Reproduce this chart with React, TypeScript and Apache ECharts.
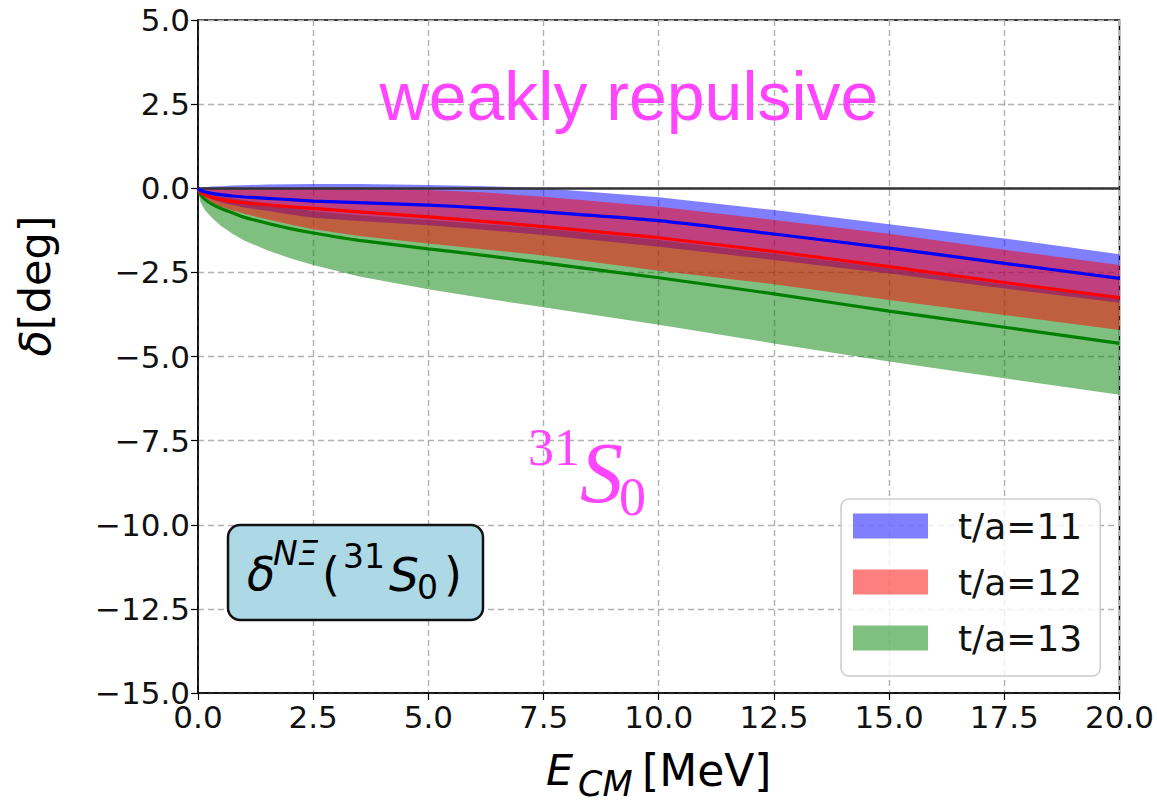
import React, { useEffect, useRef } from "react";
import * as echarts from "echarts";

// Energy grid (MeV)
const E = [0, 0.05, 0.15, 0.3, 0.5, 0.75, 1, 1.5, 2, 2.5, 3.5, 5, 6.25, 7.5, 10, 12.5, 15, 17.5, 20];

// t/a = 11
const blueUpper = [0, 0.01, 0.03, 0.05, 0.06, 0.08, 0.09, 0.11, 0.12, 0.13, 0.13, 0.1, 0.06, 0.0, -0.27, -0.65, -1.07, -1.49, -1.96];
const blueLine = [0, -0.06, -0.11, -0.15, -0.19, -0.23, -0.26, -0.3, -0.34, -0.38, -0.43, -0.5, -0.59, -0.7, -0.96, -1.36, -1.78, -2.23, -2.68];
const blueLower = [0, -0.14, -0.24, -0.33, -0.42, -0.5, -0.57, -0.67, -0.78, -0.88, -0.97, -1.1, -1.24, -1.39, -1.74, -2.13, -2.53, -2.98, -3.4];

// t/a = 12
const redUpper = [0, -0.01, -0.01, -0.02, -0.02, -0.02, -0.02, -0.02, -0.02, -0.02, -0.03, -0.05, -0.13, -0.25, -0.55, -0.94, -1.35, -1.83, -2.28];
const redLine = [0, -0.12, -0.2, -0.27, -0.33, -0.39, -0.43, -0.49, -0.55, -0.6, -0.7, -0.85, -0.99, -1.14, -1.47, -1.88, -2.33, -2.8, -3.25];
const redLower = [0, -0.16, -0.3, -0.42, -0.55, -0.66, -0.76, -0.92, -1.08, -1.22, -1.42, -1.64, -1.82, -2.0, -2.45, -2.85, -3.32, -3.77, -4.21];

// t/a = 13
const greenUpper = [0, -0.06, -0.12, -0.17, -0.23, -0.3, -0.36, -0.46, -0.58, -0.68, -0.8, -0.94, -1.07, -1.2, -1.54, -1.95, -2.38, -2.86, -3.27];
const greenLine = [0, -0.18, -0.33, -0.47, -0.6, -0.73, -0.86, -1.04, -1.2, -1.33, -1.55, -1.8, -2.0, -2.22, -2.66, -3.14, -3.65, -4.13, -4.61];
const greenLower = [0, -0.4, -0.65, -0.88, -1.12, -1.35, -1.55, -1.84, -2.08, -2.28, -2.62, -3.0, -3.28, -3.54, -4.06, -4.61, -5.15, -5.65, -6.14];

const LABELS = ["t/a=11", "t/a=12", "t/a=13"];
const X_MIN = 0, X_MAX = 20, X_STEP = 2.5;
const Y_MIN = -15, Y_MAX = 5, Y_STEP = 2.5;

const fmt = (v: number) => (v < 0 ? "\u2212" + Math.abs(v).toFixed(1) : v.toFixed(1));
const pairs = (ys: number[]) => E.map((x, i) => [x, ys[i]]);

const bands = [
  { key: "b11", name: LABELS[0], upper: blueUpper, lower: blueLower, line: blueLine, fill: "rgba(0,0,255,0.5)", stroke: "#0000ff", z: 3 },
  { key: "b12", name: LABELS[1], upper: redUpper, lower: redLower, line: redLine, fill: "rgba(255,0,0,0.5)", stroke: "#ff0000", z: 4 },
  { key: "b13", name: LABELS[2], upper: greenUpper, lower: greenLower, line: greenLine, fill: "rgba(0,128,0,0.5)", stroke: "#008000", z: 2 },
];

const FONT = "DejaVu Sans";
const MAGENTA = "#ff45ff";

export default function App() {
  const ref = useRef<HTMLDivElement>(null);
  useEffect(() => {
    if (!ref.current) return;
    const chart = echarts.init(ref.current, null, { renderer: "svg" });

    const series: any[] = [];
    bands.forEach((b) => {
      series.push({
        type: "custom",
        name: b.name,
        coordinateSystem: "cartesian2d",
        data: pairs(b.line).slice(0, 1),
        clip: true,
        silent: true,
        itemStyle: { color: b.fill },
        z: b.z,
        renderItem: (_params: any, api: any) => {
          const up = E.map((x, i) => api.coord([x, b.upper[i]]));
          const lo = E.map((x, i) => api.coord([x, b.lower[i]])).reverse().slice(0, -1);
          return {
            type: "polygon",
            shape: { points: up.concat(lo) },
            style: { fill: b.fill, stroke: "none" },
          };
        },
      });
    });
    [bands[2], bands[1], bands[0]].forEach((b, k) => {
      series.push({
        type: "line",
        name: b.key + "_line",
        data: pairs(b.line),
        symbol: "none",
        smooth: 0.2,
        lineStyle: { color: b.stroke, width: 3.2 },
        silent: true,
        z: 6 + k,
      });
    });
    // zero reference line
    series.push({
      type: "line",
      name: "zero",
      data: [],
      silent: true,
      markLine: {
        silent: true,
        symbol: "none",
        label: { show: false },
        lineStyle: { color: "#333333", width: 2.5, type: "solid" },
        data: [{ yAxis: 0 }],
      },
      z: 10,
    });

    chart.setOption({
      animation: false,
      grid: {
        left: 198,
        top: 20,
        right: 37,
        bottom: 111,
        show: true,
        borderColor: "#000000",
        borderWidth: 1.5,
        backgroundColor: "transparent",
      },
      xAxis: {
        type: "value",
        min: X_MIN,
        max: X_MAX,
        interval: X_STEP,
        axisLine: { show: true, onZero: false, lineStyle: { color: "#000", width: 1.5 } },
        axisTick: { show: true, inside: false, length: 7, lineStyle: { color: "#000", width: 1.2 } },
        axisLabel: { formatter: fmt, fontSize: 31, fontFamily: FONT, color: "#111", margin: 8 },
        splitLine: { show: true, lineStyle: { color: "#b0b0b0", width: 1.4, type: [6, 4] } },
      },
      yAxis: {
        type: "value",
        min: Y_MIN,
        max: Y_MAX,
        interval: Y_STEP,
        axisLine: { show: true, onZero: false, lineStyle: { color: "#000", width: 1.5 } },
        axisTick: { show: true, inside: false, length: 7, lineStyle: { color: "#000", width: 1.2 } },
        axisLabel: { formatter: fmt, fontSize: 31, fontFamily: FONT, color: "#111", margin: 8 },
        splitLine: { show: true, lineStyle: { color: "#b0b0b0", width: 1.4, type: [6, 4] } },
      },
      legend: {
        data: LABELS,
        orient: "vertical",
        left: 841,
        top: 499,
        padding: [9, 18, 20, 12],
        itemGap: 20,
        itemWidth: 75,
        itemHeight: 25,
        icon: "rect",
        selectedMode: false,
        backgroundColor: "rgba(255,255,255,0.8)",
        borderColor: "#cccccc",
        borderWidth: 1.5,
        borderRadius: 8,
        textStyle: { fontSize: 36, fontFamily: FONT, color: "#111", padding: [0, 0, 0, 25] },
      },
      graphic: [
        {
          type: "text",
          x: 629,
          y: 96,
          style: { text: "weakly repulsive", fontSize: 68, fontFamily: "Liberation Sans", fill: MAGENTA, align: "center", verticalAlign: "middle" },
          z: 10,
        },
        { type: "text", x: 528, y: 447, style: { text: "31", fontSize: 52, fontFamily: "Liberation Serif", fill: MAGENTA, align: "left", verticalAlign: "middle" }, z: 10 },
        { type: "text", x: 580, y: 473, style: { text: "S", fontSize: 86, fontStyle: "italic", fontFamily: "Liberation Serif", fill: MAGENTA, align: "left", verticalAlign: "middle" }, z: 10 },
        { type: "text", x: 619, y: 497, style: { text: "0", fontSize: 54, fontFamily: "Liberation Serif", fill: MAGENTA, align: "left", verticalAlign: "middle" }, z: 10 },
        {
          type: "rect",
          shape: { x: 228, y: 525, width: 255, height: 95, r: 12 },
          style: { fill: "#add8e6", stroke: "#111111", lineWidth: 2.5 },
          z: 10,
        },
        { type: "text", x: 247, y: 574, style: { text: "\u03b4", fontSize: 46, fontStyle: "italic", fontFamily: FONT, fill: "#000", align: "left", verticalAlign: "middle" }, z: 11 },
        { type: "text", x: 273, y: 553, style: { text: "N\u039e", fontSize: 33, fontStyle: "italic", fontFamily: FONT, fill: "#000", align: "left", verticalAlign: "middle" }, z: 11 },
        { type: "text", x: 322, y: 574, style: { text: "(", fontSize: 46, fontFamily: FONT, fill: "#000", align: "left", verticalAlign: "middle" }, z: 11 },
        { type: "text", x: 343, y: 556, style: { text: "31", fontSize: 33, fontFamily: FONT, fill: "#000", align: "left", verticalAlign: "middle" }, z: 11 },
        { type: "text", x: 389, y: 574, style: { text: "S", fontSize: 47, fontStyle: "italic", fontFamily: FONT, fill: "#000", align: "left", verticalAlign: "middle" }, z: 11 },
        { type: "text", x: 417, y: 587, style: { text: "0", fontSize: 33, fontFamily: FONT, fill: "#000", align: "left", verticalAlign: "middle" }, z: 11 },
        { type: "text", x: 444, y: 574, style: { text: ")", fontSize: 46, fontFamily: FONT, fill: "#000", align: "left", verticalAlign: "middle" }, z: 11 },
        // x-axis title
        { type: "text", x: 546, y: 770, style: { text: "E", fontSize: 43, fontStyle: "italic", fontFamily: FONT, fill: "#000", align: "left", verticalAlign: "middle" }, z: 11 },
        { type: "text", x: 578, y: 784, style: { text: "CM", fontSize: 35, fontStyle: "italic", fontFamily: FONT, fill: "#000", align: "left", verticalAlign: "middle" }, z: 11 },
        { type: "text", x: 642, y: 770, style: { text: "[MeV]", fontSize: 44, fontFamily: FONT, fill: "#000", align: "left", verticalAlign: "middle" }, z: 11 },
        // y-axis title
        {
          type: "text",
          x: 35,
          y: 286,
          rotation: Math.PI / 2,
          style: {
            text: "{i|\u03b4}[deg]",
            fontSize: 43,
            fontFamily: FONT,
            fill: "#000",
            align: "center",
            verticalAlign: "middle",
            rich: { i: { fontSize: 43, fontStyle: "italic", fontFamily: FONT, fill: "#000" } },
          },
          z: 11,
        },
      ],
      series,
    });
    return () => chart.dispose();
  }, []);
  return <div ref={ref} style={{ position: "fixed", left: 0, top: 0, width: 1157, height: 804, background: "#fff" }} />;
}
